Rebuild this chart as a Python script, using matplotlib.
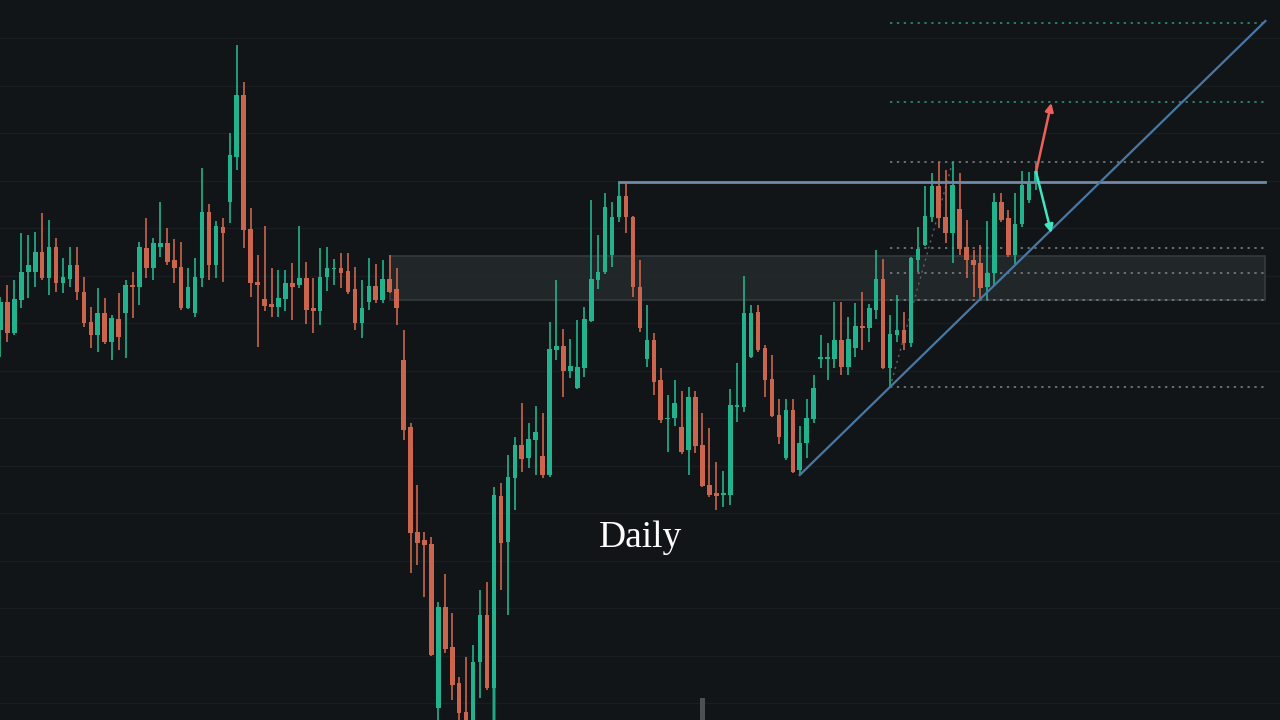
import numpy as np
import matplotlib.pyplot as plt
from matplotlib.patches import Rectangle

# daily OHLC (arbitrary price units)
opens = [390, 418, 387, 420, 448, 448, 468, 442, 473, 437,
         441, 455, 428, 398, 385, 407, 378, 401, 407, 435,
         433, 472, 452, 473, 477, 460, 453, 412, 407, 442,
         508, 455, 493, 518, 563, 625, 491, 438, 421, 416,
         413, 421, 437, 435, 442, 412, 409, 443, 451, 452,
         449, 431, 397, 418, 434, 420, 441, 431, 360, 293,
         188, 180, 176, 12, 113, 73, 37, 8, -5, 58,
         105, 32, 224, 178, 242, 275, 262, 280, 264, 245,
         370, 374, 349, 332, 352, 399, 440, 448, 465, 503,
         524, 503, 433, 361, 380, 340, 301, 302, 293, 270,
         323, 275, 235, 227, 225, 225, 313, 313, 363, 408,
         372, 341, 305, 262, 310, 250, 277, 301, 361, 361,
         361, 380, 353, 372, 394, 392, 410, 441, 352, 385,
         390, 377, 460, 475, 503, 534, 503, 487, 511, 473,
         460, 457, 433, 447, 518, 502, 465, 496, 520, 537]
highs = [423, 435, 440, 487, 485, 488, 507, 500, 482, 462,
         473, 473, 443, 413, 432, 422, 405, 427, 440, 448,
         478, 502, 482, 518, 492, 481, 478, 452, 462, 552,
         516, 499, 502, 587, 675, 638, 512, 465, 494, 452,
         450, 450, 457, 494, 458, 442, 472, 473, 461, 467,
         467, 453, 440, 462, 456, 460, 465, 452, 390, 297,
         235, 188, 183, 118, 146, 107, 43, 63, 75, 130,
         138, 233, 237, 265, 283, 317, 297, 314, 307, 398,
         440, 391, 381, 400, 413, 520, 485, 527, 518, 537,
         537, 504, 460, 415, 387, 352, 325, 340, 329, 333,
         329, 307, 292, 258, 249, 331, 357, 444, 415, 415,
         375, 365, 321, 321, 321, 294, 321, 345, 385, 377,
         418, 418, 403, 417, 428, 416, 470, 461, 405, 425,
         408, 463, 493, 534, 547, 558, 550, 558, 547, 500,
         470, 475, 499, 527, 527, 510, 527, 549, 548, 557]
lows = [363, 378, 385, 412, 422, 433, 440, 425, 428, 427,
        433, 420, 393, 372, 368, 376, 360, 370, 362, 402,
        415, 442, 440, 463, 455, 437, 410, 411, 403, 433,
        440, 442, 438, 497, 550, 472, 423, 373, 409, 403,
        403, 409, 400, 432, 396, 387, 395, 429, 435, 432,
        426, 390, 382, 410, 417, 417, 427, 395, 280, 147,
        155, 123, 64, -2, 67, 20, -2, -5, -8, 22,
        30, -2, 130, 105, 210, 248, 252, 245, 242, 243,
        360, 323, 342, 331, 343, 398, 431, 446, 453, 498,
        487, 423, 388, 353, 325, 297, 268, 294, 266, 245,
        267, 233, 223, 210, 213, 215, 298, 308, 362, 368,
        323, 303, 276, 260, 247, 245, 262, 297, 352, 340,
        352, 345, 345, 363, 370, 378, 401, 351, 333, 378,
        370, 373, 448, 474, 498, 492, 477, 457, 465, 442,
        423, 420, 420, 435, 498, 463, 455, 493, 517, 530]
closes = [418, 387, 421, 448, 455, 468, 442, 473, 437, 443,
          455, 428, 397, 385, 407, 378, 402, 383, 435, 433,
          473, 452, 477, 477, 458, 452, 412, 433, 443, 508,
          455, 494, 487, 565, 625, 490, 437, 435, 414, 413,
          422, 437, 433, 442, 410, 409, 443, 452, 452, 447,
          428, 397, 412, 434, 420, 441, 428, 412, 290, 187,
          177, 175, 65, 113, 71, 35, 7, -2, 58, 105,
          32, 225, 177, 243, 275, 261, 281, 288, 245, 371,
          374, 349, 354, 353, 401, 441, 448, 513, 503, 524,
          503, 433, 392, 380, 338, 300, 302, 317, 268, 323,
          274, 234, 225, 224, 227, 315, 315, 407, 407, 370,
          340, 304, 283, 310, 248, 277, 302, 332, 363, 363,
          380, 353, 381, 394, 392, 412, 441, 352, 386, 390,
          377, 462, 471, 504, 534, 502, 487, 535, 471, 460,
          455, 432, 447, 518, 500, 465, 496, 535, 537, 549]

# the only volume bars that reach into the picture
vol_bars = [71, 101]
vol_vals = [32, 22]

# drawings
zone = (56, 420, 464)            # start bar, bottom, top
resistance = (89, 538)           # start bar, level
trend = [(115, 245), (182, 699)]
fib_anchor = [(128, 333), (137, 558)]
fib_levels = [697, 618, 558, 472, 447, 420, 333]
arrow_start = (149, 548)
arrow_up = (151.2, 617)
arrow_down = (151.2, 487)
right_end = 182

bg = '#121518'
up_col = '#22b38e'
down_col = '#cc654e'

o = np.array(opens)
h = np.array(highs)
l = np.array(lows)
c = np.array(closes)
x = np.arange(len(o))
up = c >= o
cols = np.where(up, up_col, down_col)

fig = plt.figure(figsize=(12.8, 7.2), dpi=100, facecolor=bg)
ax = fig.add_axes([0, 0, 1, 1])
ax.set_facecolor(bg)
ax.set_xlim(-0.07, 184.1)
ax.set_ylim(0, 720)
for s in ax.spines.values():
    s.set_visible(False)
ax.set_yticks(np.arange(17, 720, 47.5))
ax.set_xticks([])
ax.tick_params(length=0, labelleft=False, labelbottom=False)
ax.grid(axis='y', color='#1a1e22', lw=1)
ax.set_axisbelow(True)

# zone box
ax.add_patch(Rectangle((zone[0], zone[1]), right_end - zone[0], zone[2] - zone[1],
                       facecolor='#242a2d', edgecolor='#394044', lw=1.2, alpha=0.85, zorder=1))

# candles
ax.vlines(x, l, h, colors=cols, lw=1.2, zorder=3)
body_h = np.maximum(np.abs(c - o), 1.5)
ax.bar(x, body_h, bottom=np.minimum(o, c), width=0.66, color=cols, lw=0, zorder=4)

# volume
ax.bar(vol_bars, vol_vals, width=0.6, color=['#1b5c4d', '#4b5054'], lw=0, zorder=2)

# fib levels
for lv in fib_levels:
    lc = '#2f9a7f' if lv > fib_anchor[1][1] else '#80868b'
    ax.plot([fib_anchor[0][0], right_end], [lv, lv], color=lc, lw=1.1,
            ls=(0, (1.5, 3)), zorder=2)
ax.plot([p[0] for p in fib_anchor], [p[1] for p in fib_anchor], color='#5d6368',
        lw=1, ls=(0, (1.5, 3)), zorder=2)

# resistance and trend line
ax.plot([resistance[0], right_end], [resistance[1]] * 2, color='#6f89a6', lw=2, zorder=5)
ax.plot([p[0] for p in trend], [p[1] for p in trend], color='#4878a3', lw=1.6, zorder=5)

# projection arrows
ax.annotate('', xy=arrow_up, xytext=arrow_start,
            arrowprops=dict(arrowstyle='-|>', color='#f0605a', lw=1.8, mutation_scale=12,
                            shrinkA=0, shrinkB=0), zorder=6)
ax.annotate('', xy=arrow_down, xytext=arrow_start,
            arrowprops=dict(arrowstyle='-|>', color='#3fe6c0', lw=1.8, mutation_scale=12,
                            shrinkA=0, shrinkB=0), zorder=6)

ax.text(0.5, 0.253, 'Daily', transform=ax.transAxes, ha='center', va='center',
        color='white', fontsize=27, family=['Liberation Serif', 'DejaVu Serif'])

fig.savefig('out.png', dpi=100, facecolor=bg)
